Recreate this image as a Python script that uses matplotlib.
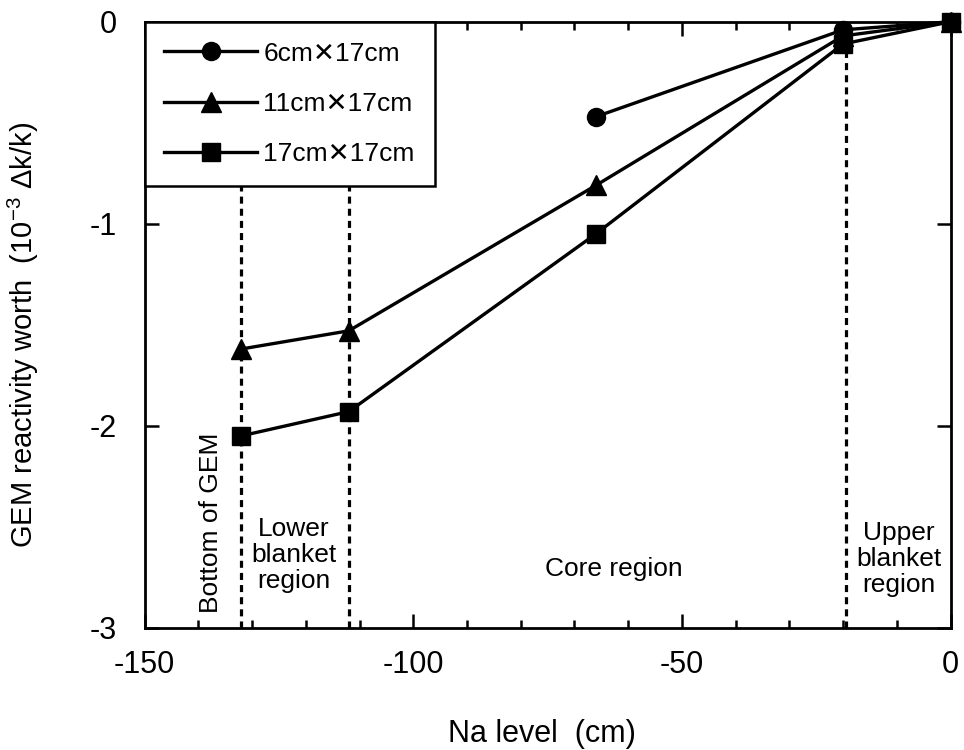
import matplotlib
matplotlib.use("Agg")
import matplotlib.pyplot as plt
from matplotlib.ticker import MultipleLocator

plt.rcParams['font.family'] = ['Liberation Sans', 'DejaVu Sans']
plt.rcParams['mathtext.fontset'] = 'custom'
plt.rcParams['mathtext.rm'] = 'Liberation Sans'
plt.rcParams['mathtext.it'] = 'Liberation Sans'
plt.rcParams['axes.unicode_minus'] = False

# Data
x_6 = [-66, -20, 0]
y_6 = [-0.47, -0.04, 0.0]
x_11 = [-132, -112, -66, -20, 0]
y_11 = [-1.62, -1.53, -0.81, -0.07, 0.0]
x_17 = [-132, -112, -66, -20, 0]
y_17 = [-2.05, -1.93, -1.05, -0.11, 0.0]
labels = ["6cm\u271517cm", "11cm\u271517cm", "17cm\u271517cm"]
boundaries = [-132, -112, -19.5]

fig = plt.figure(figsize=(9.64, 7.5), dpi=100)
ax = fig.add_axes([0.150, 0.163, 0.836, 0.808])

for xb in boundaries:
    ax.plot([xb, xb], [-3, 0], color='black', lw=2.3, ls=(0, (2.2, 1.6)), zorder=1)

ax.plot(x_6, y_6, '-o', color='black', lw=2.4, ms=13, label=labels[0], zorder=3, clip_on=False)
ax.plot(x_11, y_11, '-^', color='black', lw=2.4, ms=14, label=labels[1], zorder=3, clip_on=False)
ax.plot(x_17, y_17, '-s', color='black', lw=2.4, ms=12.5, label=labels[2], zorder=3, clip_on=False)

ax.set_xlim(-150, 0)
ax.set_ylim(-3, 0)
ax.xaxis.set_major_locator(MultipleLocator(50))
ax.xaxis.set_minor_locator(MultipleLocator(10))
ax.yaxis.set_major_locator(MultipleLocator(1))
ax.tick_params(which='both', direction='in', top=True, right=True, width=1.8)
ax.tick_params(which='major', length=10, labelsize=22)
ax.tick_params(axis='x', which='major', pad=16)
ax.tick_params(axis='y', which='major', pad=20)
ax.tick_params(which='minor', length=6)
for s in ax.spines.values():
    s.set_linewidth(2)

ax.set_xlabel("Na level  (cm)", fontsize=22)
ax.xaxis.set_label_coords(0.493, -0.150)
ax.set_ylabel("GEM reactivity worth  ($10^{-3}$ \u0394k/k)", fontsize=21)
ax.yaxis.set_label_coords(-0.128, 0.483)

leg = ax.legend(loc='upper left', fontsize=19, frameon=True, fancybox=False,
                edgecolor='black', handlelength=3.5, borderaxespad=0,
                labelspacing=1.0, borderpad=0.75, handletextpad=0.25)
leg.get_frame().set_linewidth(1.8)
leg.get_frame().set_alpha(1)
leg.set_zorder(5)

ax.text(-137.7, -2.48, "Bottom of GEM", rotation=90, ha='center', va='center', fontsize=19)
ax.text(-122.2, -2.64, "Lower\nblanket\nregion", ha='center', va='center', fontsize=19, linespacing=1.1)
ax.text(-62.6, -2.71, "Core region", ha='center', va='center', fontsize=19)
ax.text(-9.6, -2.66, "Upper\nblanket\nregion", ha='center', va='center', fontsize=19, linespacing=1.1)

fig.savefig("out.png", dpi=100)
